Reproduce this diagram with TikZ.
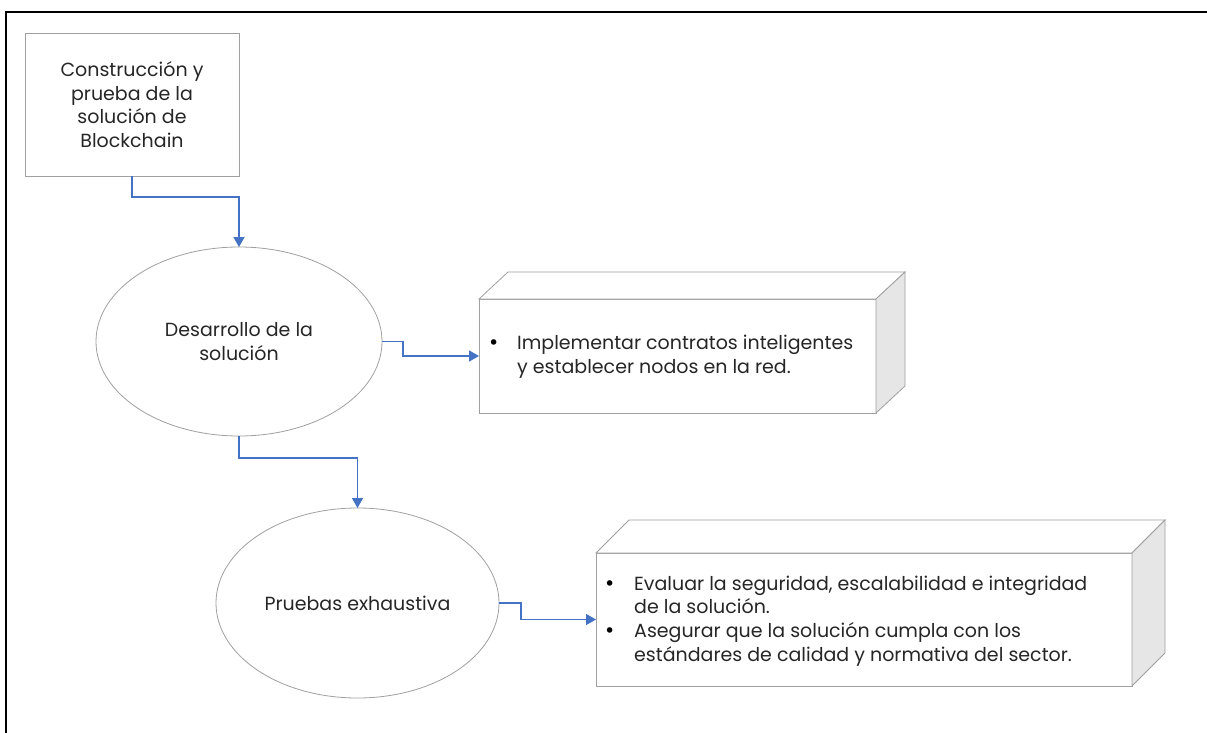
\documentclass[tikz,border=0pt]{standalone}
\usepackage{fontspec}
\setmainfont{Poppins}
\newfontfamily\dotfont{DejaVu Sans}
\usetikzlibrary{arrows.meta,shapes.geometric}
\definecolor{boxline}{HTML}{A0A0A0}
\definecolor{linkblue}{HTML}{4472C4}
\definecolor{sideface}{HTML}{E6E6E6}
\definecolor{textgray}{HTML}{262626}
\newcommand{\labelfont}{\fontsize{19}{23.8}\selectfont}
\newcommand{\itemdot}[1]{\makebox[#1][l]{\hspace*{1pt}{\color{black}\dotfont •}}}
\begin{document}
\begin{tikzpicture}[x=1pt,y=-1pt,
  every node/.style={text=textgray, font=\labelfont},
  procbox/.style={draw=boxline, line width=0.8pt, fill=white, align=center,
    inner sep=0pt, outer sep=0pt},
  stagebubble/.style={ellipse, draw=boxline, line width=0.8pt, fill=white,
    align=center, inner sep=0pt, outer sep=0pt},
  frontface/.style={draw=boxline, line width=0.8pt, fill=white,
    inner sep=0pt, outer sep=0pt},
  topface/.style={draw=boxline, line width=0.8pt, fill=white},
  rightface/.style={draw=boxline, line width=0.8pt, fill=sideface},
  listtext/.style={anchor=west, inner sep=0pt, align=left},
  flow/.style={draw=linkblue, line width=1.4pt,
    -{Triangle[length=10pt,width=11pt]}}
]
\useasboundingbox (0,0) rectangle (1207,733);
\fill[white] (0,0) rectangle (1207,733);

% page frame (top and left edges)
\draw[line width=2.2pt, black] (6,740) -- (6,12) -- (1215,12);

% starting step
\node[procbox, minimum width=214pt, minimum height=143pt] (build) at (132,104.5)
  {Construcción y\\prueba de la\\solución de\\Blockchain};

% stages
\node[stagebubble, minimum width=286pt, minimum height=189pt] (dev) at (239,341.5)
  {Desarrollo de la\\solución};
\node[stagebubble, minimum width=283pt, minimum height=190pt] (test) at (357.5,603)
  {Pruebas exhaustiva};

% detail block for development
\node[frontface, minimum width=397pt, minimum height=114pt] (devbox) at (677.5,356) {};
\draw[topface] (devbox.north west) -- ([shift={(29,-27)}]devbox.north west)
  -- ([shift={(29,-27)}]devbox.north east) -- (devbox.north east) -- cycle;
\draw[rightface] (devbox.north east) -- ([shift={(29,-27)}]devbox.north east)
  -- ([shift={(29,-27)}]devbox.south east) -- (devbox.south east) -- cycle;
\node[listtext] (devtext) at (487,357)
  {\begin{tabular}{@{}l@{}l@{}}
   \itemdot{30pt} & Implementar contratos inteligentes\\
     & y establecer nodos en la red.
   \end{tabular}};

% detail block for testing
\node[frontface, minimum width=536pt, minimum height=133pt] (testbox) at (864,619.5) {};
\draw[topface] (testbox.north west) -- ([shift={(33,-33)}]testbox.north west)
  -- ([shift={(33,-33)}]testbox.north east) -- (testbox.north east) -- cycle;
\draw[rightface] (testbox.north east) -- ([shift={(33,-33)}]testbox.north east)
  -- ([shift={(33,-33)}]testbox.south east) -- (testbox.south east) -- cycle;
\node[listtext] (testtext) at (603,621)
  {\begin{tabular}{@{}l@{}l@{}}
   \itemdot{31pt} & Evaluar la seguridad, escalabilidad e integridad\\
     & de la solución.\\
   \itemdot{31pt} & Asegurar que la solución cumpla con los\\
     & estándares de calidad y normativa del sector.
   \end{tabular}};

% connectors
\draw[flow] (build.south) -- ++(0,21) -| (dev.north);
\draw[flow] (dev.east) -- ++(21,0) |- (devbox.west);
\draw[flow] (dev.south) -- ++(0,22) -| (test.north);
\draw[flow] (test.east) -- ++(22,0) |- (testbox.west);
\end{tikzpicture}
\end{document}
